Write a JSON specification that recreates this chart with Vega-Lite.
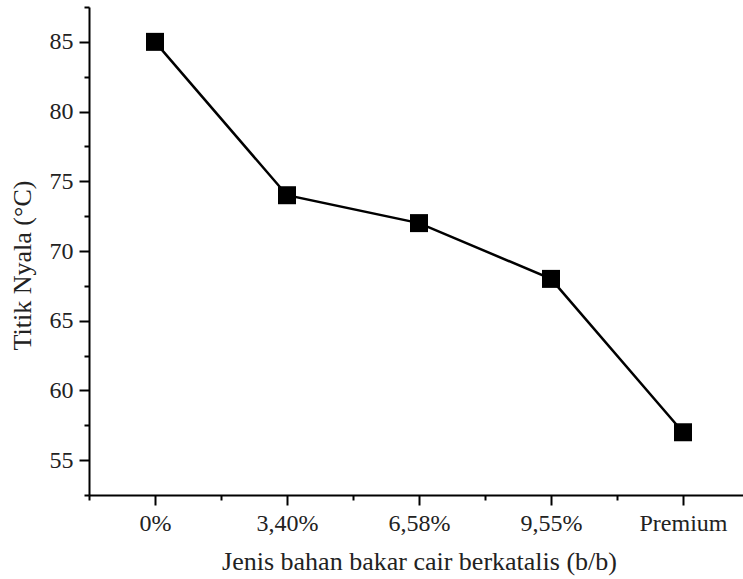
{
  "$schema": "https://vega.github.io/schema/vega-lite/v6.json",
  "autosize": {"type": "none"},
  "padding": {"left": 89, "top": 7, "right": 0, "bottom": 84},
  "width": 660,
  "height": 488,
  "background": "white",
  "data": {"values": [
    {"Jenis": "0%", "TitikNyala": 85},
    {"Jenis": "3,40%", "TitikNyala": 74},
    {"Jenis": "6,58%", "TitikNyala": 72},
    {"Jenis": "9,55%", "TitikNyala": 68},
    {"Jenis": "Premium", "TitikNyala": 57}
  ]},
  "transform": [{"window": [{"op": "row_number", "as": "idx"}]}],
  "config": {
    "view": {"stroke": null},
    "axis": {
      "grid": false,
      "domainColor": "#000",
      "domainWidth": 2,
      "tickColor": "#000",
      "tickWidth": 2,
      "labelFont": "Liberation Serif",
      "labelFontSize": 24,
      "labelColor": "#222",
      "titleFont": "Liberation Serif",
      "titleFontSize": 26,
      "titleFontWeight": "normal",
      "titleColor": "#222"
    }
  },
  "resolve": {"axis": {"x": "independent", "y": "independent"}},
  "layer": [
    {
      "mark": {"type": "line", "color": "#000", "strokeWidth": 2.5},
      "encoding": {
        "x": {"field": "idx", "type": "quantitative",
          "scale": {"domain": [0.5, 5.5], "nice": false, "zero": false},
          "axis": {"orient": "bottom", "values": [1, 2, 3, 4, 5],
            "labelExpr": "['0%','3,40%','6,58%','9,55%','Premium'][datum.value-1]",
            "tickSize": 10, "labelPadding": 6, "labelFlush": false, "labelOverlap": false,
            "title": "Jenis bahan bakar cair berkatalis (b/b)", "titlePadding": 13}},
        "y": {"field": "TitikNyala", "type": "quantitative",
          "scale": {"domain": [52.5, 87.5], "nice": false, "zero": false},
          "axis": {"orient": "left", "values": [55, 60, 65, 70, 75, 80, 85],
            "tickSize": 10, "labelPadding": 6, "labelFlush": false,
            "title": "Titik Nyala (°C)", "titlePadding": 14, "titleY": 258}}
      }
    },
    {
      "mark": {"type": "point", "shape": "square", "filled": true, "color": "#000", "size": 324, "opacity": 1},
      "encoding": {
        "x": {"field": "idx", "type": "quantitative", "axis": null},
        "y": {"field": "TitikNyala", "type": "quantitative", "axis": null}
      }
    },
    {
      "mark": {"type": "point", "opacity": 0},
      "encoding": {
        "x": {"field": "idx", "type": "quantitative",
          "axis": {"orient": "bottom", "values": [0.5, 1.5, 2.5, 3.5, 4.5, 5.5],
            "tickSize": 5, "labels": false, "domain": false, "title": null}},
        "y": {"field": "TitikNyala", "type": "quantitative",
          "axis": {"orient": "left", "values": [52.5, 57.5, 62.5, 67.5, 72.5, 77.5, 82.5, 87.5],
            "tickSize": 5, "labels": false, "domain": false, "title": null}}
      }
    }
  ]
}
